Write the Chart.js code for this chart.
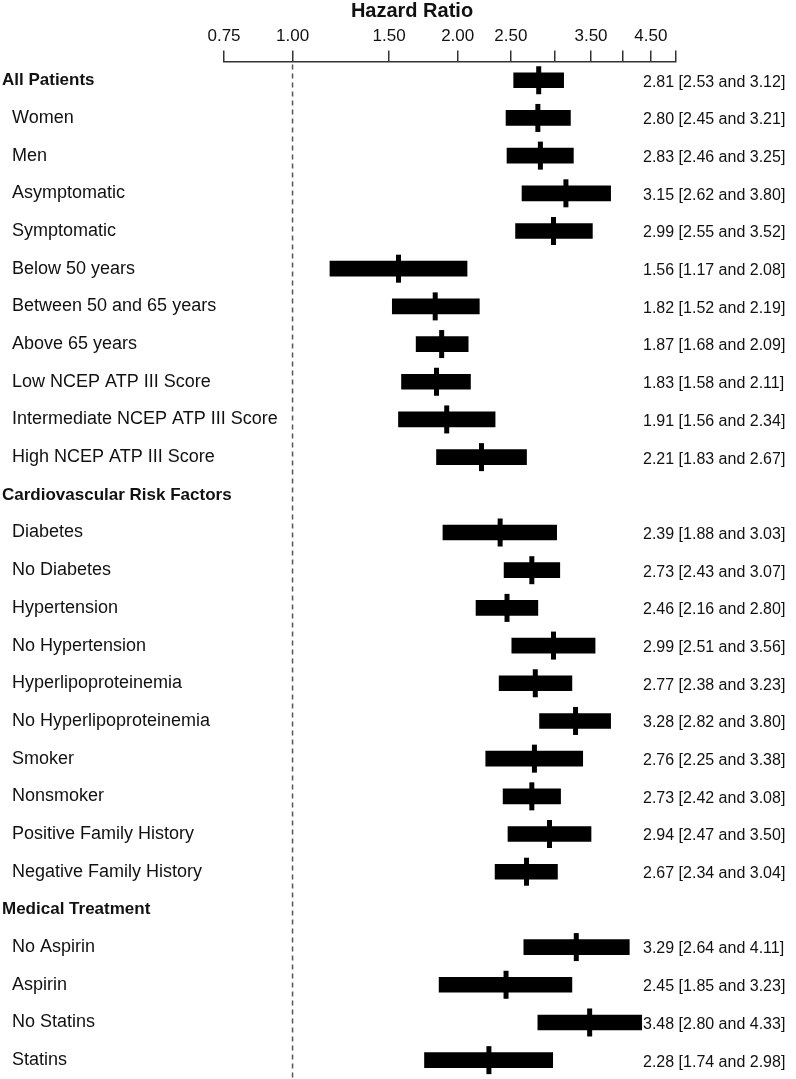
<!DOCTYPE html>
<html>
<head>
<meta charset="utf-8">
<title>Hazard Ratio</title>
<script src="https://cdn.jsdelivr.net/npm/chart.js@4.4.1/dist/chart.umd.min.js"></script>
<style>
  html, body { margin: 0; padding: 0; background: #fff; }
  #wrap { width: 796px; height: 1079px; position: relative; }
</style>
</head>
<body>
<div id="wrap"><canvas id="forest"></canvas></div>
<script>
// rows of the forest plot, top to bottom
const labels = [
  'All Patients', 'Women', 'Men', 'Asymptomatic', 'Symptomatic',
  'Below 50 years', 'Between 50 and 65 years', 'Above 65 years',
  'Low NCEP ATP III Score', 'Intermediate NCEP ATP III Score', 'High NCEP ATP III Score',
  'Cardiovascular Risk Factors', 'Diabetes', 'No Diabetes', 'Hypertension', 'No Hypertension',
  'Hyperlipoproteinemia', 'No Hyperlipoproteinemia', 'Smoker', 'Nonsmoker',
  'Positive Family History', 'Negative Family History',
  'Medical Treatment', 'No Aspirin', 'Aspirin', 'No Statins', 'Statins'
];
// rows printed in bold, not indented
const headerRows = ['All Patients', 'Cardiovascular Risk Factors', 'Medical Treatment'];

// hazard ratio and the confidence limits (null = header without data)
const hazard = [2.81, 2.80, 2.83, 3.15, 2.99, 1.56, 1.82, 1.87, 1.83, 1.91, 2.21, null,
  2.39, 2.73, 2.46, 2.99, 2.77, 3.28, 2.76, 2.73, 2.94, 2.67, null, 3.29, 2.45, 3.48, 2.28];
const lower = [2.53, 2.45, 2.46, 2.62, 2.55, 1.17, 1.52, 1.68, 1.58, 1.56, 1.83, null,
  1.88, 2.43, 2.16, 2.51, 2.38, 2.82, 2.25, 2.42, 2.47, 2.34, null, 2.64, 1.85, 2.80, 1.74];
const upper = [3.12, 3.21, 3.25, 3.80, 3.52, 2.08, 2.19, 2.09, 2.11, 2.34, 2.67, null,
  3.03, 3.07, 2.80, 3.56, 3.23, 3.80, 3.38, 3.08, 3.50, 3.04, null, 4.11, 3.23, 4.33, 2.98];

// x axis ticks (log scale), empty label = tick mark only
const tickValues = [0.75, 1, 1.5, 2, 2.5, 3, 3.5, 4, 4.5, 5];
const tickLabels = ['0.75', '1.00', '1.50', '2.00', '2.50', '', '3.50', '', '4.50', ''];

const fontFamily = "'Liberation Sans', Arial, Helvetica, sans-serif";
Chart.defaults.font.family = fontFamily;
Chart.defaults.color = '#111';

// bars go from lower to upper limit
const ciData = labels.map((l, i) => lower[i] == null ? null : [lower[i], upper[i]]);
// point estimates as vertical tick marks
const hrData = [];
labels.forEach((l, i) => { if (hazard[i] != null) hrData.push({ x: hazard[i], y: l }); });

// dashed line at 1, the title and the numbers on the right
const extras = {
  id: 'extras',
  beforeDatasetsDraw(chart) {
    const x = chart.scales.x.getPixelForValue(1);
    const ctx = chart.ctx;
    ctx.save();
    ctx.strokeStyle = '#555';
    ctx.lineWidth = 1.5;
    ctx.setLineDash([5, 4]);
    ctx.beginPath();
    ctx.moveTo(x, chart.chartArea.top + 3);
    ctx.lineTo(x, chart.height);
    ctx.stroke();
    ctx.restore();
  },
  afterDraw(chart) {
    const ctx = chart.ctx;
    const yScale = chart.scales.y;
    ctx.save();
    ctx.fillStyle = '#111';
    ctx.font = 'bold 20px ' + fontFamily;
    ctx.textAlign = 'center';
    ctx.textBaseline = 'middle';
    ctx.fillText('Hazard Ratio', 412, 11);

    ctx.font = '16px ' + fontFamily;
    ctx.textAlign = 'left';
    labels.forEach((l, i) => {
      if (hazard[i] == null) return;
      const txt = hazard[i].toFixed(2) + ' [' + lower[i].toFixed(2) + ' and ' + upper[i].toFixed(2) + ']';
      ctx.fillText(txt, 643, yScale.getPixelForValue(i) + 2);
    });
    ctx.restore();
  }
};

new Chart(document.getElementById('forest'), {
  type: 'bar',
  data: {
    labels: labels,
    datasets: [
      {
        label: 'CI',
        data: ciData,
        backgroundColor: '#000',
        borderWidth: 0,
        barThickness: 15
      },
      {
        type: 'scatter',
        label: 'HR',
        data: hrData,
        pointStyle: 'line',
        rotation: 90,
        radius: 14,
        borderWidth: 5,
        borderColor: '#000',
        backgroundColor: '#000',
        clip: false
      }
    ]
  },
  options: {
    indexAxis: 'y',
    responsive: true,
    maintainAspectRatio: false,
    animation: false,
    events: [],
    layout: { autoPadding: false, padding: { top: 22, left: 2, right: 120, bottom: -2 } },
    plugins: {
      legend: { display: false },
      tooltip: { enabled: false }
    },
    scales: {
      x: {
        type: 'logarithmic',
        position: 'top',
        min: 0.75,
        max: 5,
        afterBuildTicks: (scale) => {
          scale.ticks = tickValues.map(v => ({ value: v }));
        },
        ticks: {
          autoSkip: false,
          maxRotation: 0,
          padding: 4,
          color: '#111',
          font: { size: 17 },
          callback: (value, index) => tickLabels[index]
        },
        grid: {
          drawOnChartArea: false,
          drawTicks: true,
          tickLength: 11,
          color: '#333',
          lineWidth: 1.5
        },
        border: { display: true, color: '#333', width: 1.5 }
      },
      y: {
        type: 'category',
        offset: true,
        // labels sit at the far left and may run under the plot area
        afterFit: (scale) => {
          scale.width = 222;
          scale.paddingTop = 0;
          scale.paddingBottom = 0;
        },
        grid: { display: false },
        border: { display: false },
        ticks: {
          mirror: true,
          crossAlign: 'near',
          padding: -222,
          autoSkip: false,
          color: '#111',
          font: (ctx) => headerRows.includes(labels[ctx.index])
            ? { size: 17, weight: 'bold' }
            : { size: 18, weight: 'normal' },
          callback: (value, index) => headerRows.includes(labels[index]) ? labels[index] : '  ' + labels[index]
        }
      }
    }
  },
  plugins: [extras]
});
</script>
</body>
</html>
